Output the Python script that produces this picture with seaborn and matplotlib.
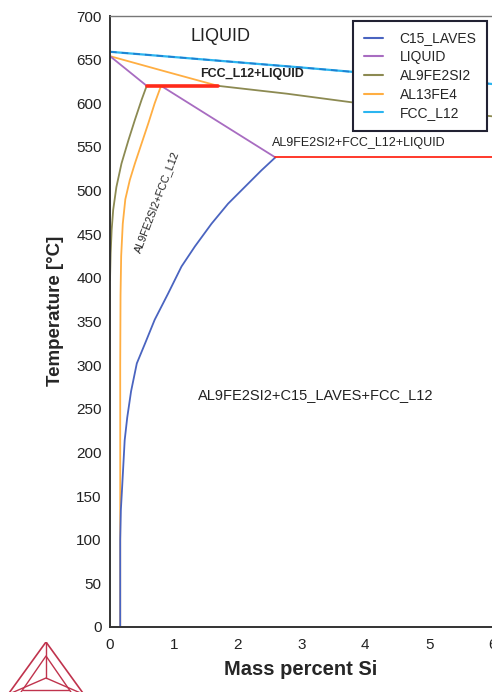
import numpy as np
import pandas as pd
import matplotlib
matplotlib.use("Agg")
import matplotlib.pyplot as plt
from matplotlib.lines import Line2D
import seaborn as sns

fcc_x = [0.0, 1.0, 2.0, 3.0, 3.8, 5.0, 6.0]
fcc_t = [659, 653, 647, 641, 636, 629, 622]

liq_a_x = [0.0, 0.575]
liq_a_t = [654, 620]
liq_b_x = [0.80, 2.59]
liq_b_t = [620, 538]

al13_top_x = [0.0, 0.89, 1.69]
al13_top_t = [654, 636, 620]
al13_left_x = [0.80, 0.70, 0.60, 0.495, 0.39, 0.31, 0.24, 0.20, 0.175, 0.165, 0.16, 0.16]
al13_left_t = [620, 600, 577, 554, 531, 512, 490, 462, 425, 380, 300, 0]

al9_right_x = [1.69, 2.77, 3.8, 5.0, 6.0]
al9_right_t = [620, 611, 601, 592, 585]
al9_left_x = [0.575, 0.495, 0.39, 0.29, 0.18, 0.10, 0.05, 0.026, 0.01, 0.0]
al9_left_t = [620, 604, 581, 558, 531, 504, 478, 455, 428, 397]

c15_x = [2.59, 2.37, 2.11, 1.85, 1.59, 1.33, 1.12, 0.91, 0.70, 0.55, 0.42,
         0.33, 0.27, 0.23, 0.19, 0.17, 0.16, 0.16]
c15_t = [538, 523, 504, 485, 462, 436, 413, 382, 352, 325, 302,
         270, 240, 214, 160, 134, 100, 0]

inv_hi_x = [0.575, 1.69]
inv_hi_t = [620, 620]
inv_lo_x = [2.59, 6.0]
inv_lo_t = [538, 538]

phases = ["C15_LAVES", "LIQUID", "AL9FE2SI2", "AL13FE4", "FCC_L12"]
colors = {"C15_LAVES": "#4a64c0", "LIQUID": "#a86cc1", "AL9FE2SI2": "#8c8a52",
          "AL13FE4": "#ffae42", "FCC_L12": "#2bb5f0"}

# === Figura ===
sns.set_style("white")
plt.rcParams["font.family"] = ["Liberation Sans", "DejaVu Sans"]

fig = plt.figure(figsize=(4.92, 6.92), dpi=100)
ax = fig.add_axes([110 / 492, 65 / 692, 383 / 492, 611 / 692])


def curve(xs, ts, color, lw=1.3, ls="-"):
    df = pd.DataFrame({"x": xs, "T": ts})
    sns.lineplot(data=df, x="x", y="T", sort=False, estimator=None, ax=ax,
                 color=color, linewidth=lw, linestyle=ls)


curve(fcc_x, fcc_t, colors["FCC_L12"], lw=1.6)
curve(fcc_x, fcc_t, "#1f7fd0", lw=1.2, ls=(0, (4, 3)))
curve(al13_top_x, al13_top_t, colors["AL13FE4"])
curve(al9_right_x, al9_right_t, colors["AL9FE2SI2"])
curve(liq_a_x, liq_a_t, colors["LIQUID"])
curve(liq_b_x, liq_b_t, colors["LIQUID"])
curve(al13_left_x, al13_left_t, colors["AL13FE4"])
curve(al9_left_x, al9_left_t, colors["AL9FE2SI2"])
curve(c15_x, c15_t, colors["C15_LAVES"])
curve(inv_hi_x, inv_hi_t, "#ff2a1a", lw=2.6)
curve(inv_lo_x, inv_lo_t, "#ff2a1a", lw=1.3)

ax.set_xlim(0, 6)
ax.set_ylim(0, 700)
ax.set_xticks(range(0, 7))
ax.set_yticks(range(0, 701, 50))
ax.tick_params(axis="both", direction="out", length=3, width=0.8,
               labelsize=11, colors="#333333")
ax.tick_params(axis="x", pad=5)
ax.tick_params(axis="y", pad=3)
ax.tick_params(axis="both", labelcolor="#222222")
for side in ["left", "bottom"]:
    ax.spines[side].set_color("#333333")
    ax.spines[side].set_linewidth(1.4)
ax.spines["top"].set_color("#777777")
ax.spines["top"].set_linewidth(1.0)
ax.spines["right"].set_visible(False)

ax.set_xlabel("Mass percent Si", fontsize=14.5, fontweight="bold")
ax.set_ylabel("Temperature [°C]", fontsize=13.5, fontweight="bold")
ax.xaxis.set_label_coords(0.499, -0.054)
ax.yaxis.set_label_coords(-0.12, 0.517)

# etiquetas de regiones
ax.text(1.73, 676, "LIQUID", fontsize=13, ha="center", va="center", color="#222222")
ax.text(2.22, 633, "FCC_L12+LIQUID", fontsize=9, fontweight="bold",
        ha="center", va="center", color="#222222")
ax.text(3.89, 554, "AL9FE2SI2+FCC_L12+LIQUID", fontsize=9,
        ha="center", va="center", color="#222222")
ax.text(3.23, 266, "AL9FE2SI2+C15_LAVES+FCC_L12", fontsize=10.5,
        ha="center", va="center", color="#222222")
ax.text(0.73, 487, "AL9FE2SI2+FCC_L12", fontsize=7.8, rotation=69,
        ha="center", va="center", color="#222222")

# leyenda
handles = [Line2D([0], [0], color=colors[p], lw=1.5) for p in phases]
leg = ax.legend(handles, phases, loc="upper right",
                bbox_to_anchor=((487 - 110) / 383, 1 - 5 / 611),
                fontsize=10, frameon=True, fancybox=False, handlelength=1.4,
                handletextpad=1.2, borderpad=0.75, labelspacing=0.34,
                borderaxespad=0)
leg.get_frame().set_edgecolor("#222233")
leg.get_frame().set_linewidth(1.5)
leg.get_frame().set_alpha(1)

# logo (triangulo) en la esquina inferior izquierda
logo = fig.add_axes([8 / 492, 0, 76 / 492, 50 / 692])
logo.set_xlim(0, 1)
logo.set_ylim(0, 1)
logo.axis("off")
red = "#c0334d"
logo.plot([0.0, 0.5, 1.0, 0.0], [-0.05, 1.0, -0.05, -0.05], color=red, lw=1.2)
logo.plot([0.15, 0.5, 0.85], [-0.05, 0.72, -0.05], color=red, lw=1.0)
logo.plot([0.5, 0.5], [1.0, 0.28], color=red, lw=1.0)
logo.plot([0.0, 0.5, 1.0], [-0.05, 0.28, -0.05], color=red, lw=1.0)
logo.plot([0.2, 0.8], [0.05, 0.05], color=red, lw=1.0)

fig.savefig("out.png", dpi=100)
plt.close(fig)
